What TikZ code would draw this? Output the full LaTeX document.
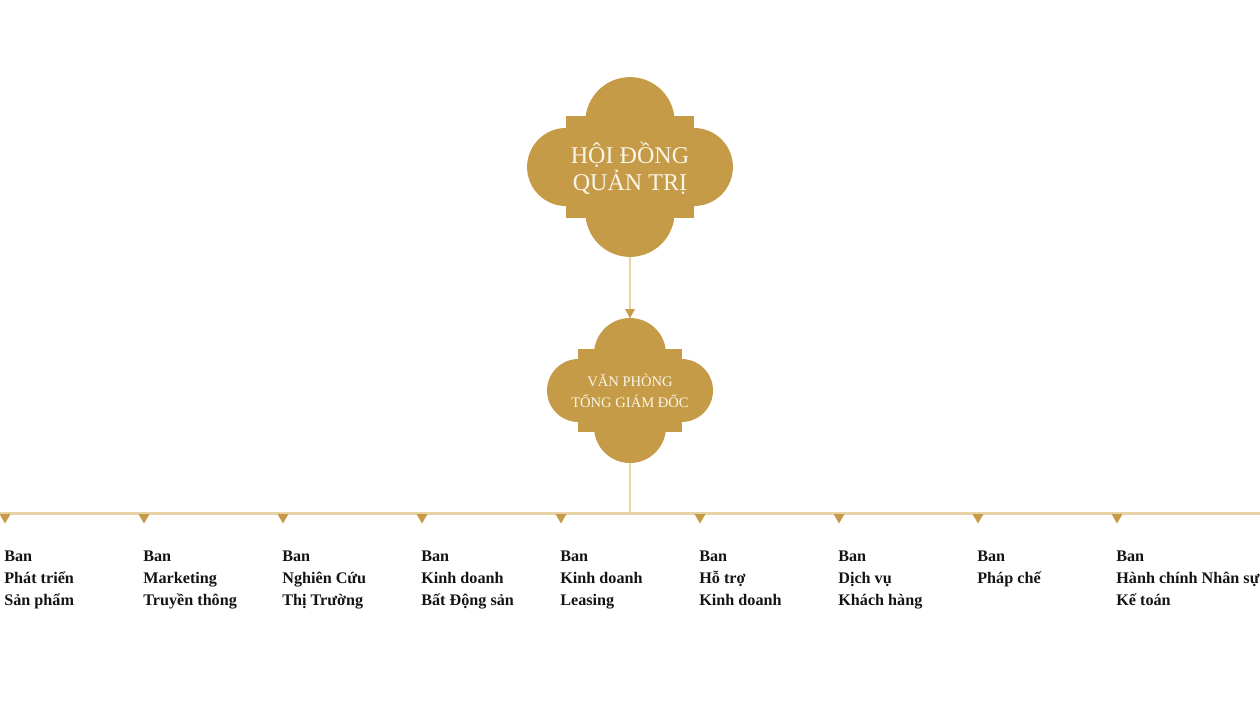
\documentclass[tikz,border=0pt]{standalone}
\usepackage{fontspec}
\setmainfont{Liberation Serif}
\definecolor{gold}{HTML}{C59B47}
\definecolor{beige}{HTML}{E8D3A6}
\definecolor{cream}{HTML}{FBF5E8}
\definecolor{ink}{HTML}{141414}
\newcommand\quatrefoil[3]{%
  \fill[gold] (#1-52*#3, #2-41.5*#3) rectangle (#1+52*#3, #2+41.5*#3);
  \fill[gold] (#1-36*#3, #2-36.5*#3) rectangle (#1+36*#3, #2+36.5*#3);
  \fill[gold] (#1, #2-36.5*#3) circle[radius=36*#3*0.02cm];
  \fill[gold] (#1, #2+36.5*#3) circle[radius=36*#3*0.02cm];
  \fill[gold] (#1-51.5*#3, #2) circle[radius=31.5*#3*0.02cm];
  \fill[gold] (#1+51.5*#3, #2) circle[radius=31.5*#3*0.02cm];
}
\tikzset{
  boxtext/.style={align=center, text=cream, inner sep=0pt},
  dept/.style={align=left, anchor=north west, inner sep=0pt, text=ink,
    font=\bfseries\fontsize{9.2}{12.5}\selectfont},
  link/.style={draw=beige, line width=1.3pt},
}
\begin{document}
\begin{tikzpicture}[x=0.02cm,y=-0.02cm]
\path[use as bounding box, fill=white] (0,0) rectangle (1260,708);
% shapes
\quatrefoil{630}{167}{1.24}
\quatrefoil{630}{390.5}{1}
\node[minimum width=206*0.02cm, minimum height=180*0.02cm, inner sep=0] (hdqt) at (630,167) {};
\node[minimum width=166*0.02cm, minimum height=145*0.02cm, inner sep=0] (vp) at (630,390.5) {};
\node[boxtext, font=\fontsize{13.7}{15.4}\selectfont] (hdqtT) at (630,168) {HỘI ĐỒNG\\QUẢN TRỊ};
\node[boxtext, font=\fontsize{8.3}{12}\selectfont] (vpT) at (630,390.5) {VĂN PHÒNG\\TỔNG GIÁM ĐỐC};
% connectors
\coordinate (busL) at (0,513.5);
\coordinate (busR) at (1260,513.5);
\coordinate (busM) at (630,513.5);
\draw[link] (hdqt.south) -- (vp.north);
\fill[gold] (625,309) -- (635,309) -- (630,318) -- cycle;
\draw[link] (vp.south) -- (busM);
\draw[link] (busL) -- (busR);
% departments
\foreach \i/\t in {0/{Ban\\Phát triển\\Sản phẩm},
                   1/{Ban\\Marketing\\Truyền thông},
                   2/{Ban\\Nghiên Cứu\\Thị Trường},
                   3/{Ban\\Kinh doanh\\Bất Động sản},
                   4/{Ban\\Kinh doanh\\Leasing},
                   5/{Ban\\Hỗ trợ\\Kinh doanh},
                   6/{Ban\\Dịch vụ\\Khách hàng},
                   7/{Ban\\Pháp chế},
                   8/{Ban\\Hành chính Nhân sự\\Kế toán}}{
  \pgfmathsetmacro{\xx}{5+139*\i}
  \fill[gold] (\xx-5.5,514) -- (\xx+5.5,514) -- (\xx,523.5) -- cycle;
  \node[dept] (d\i) at (\xx-1,550.5) {\t};
}
\end{tikzpicture}
\end{document}
